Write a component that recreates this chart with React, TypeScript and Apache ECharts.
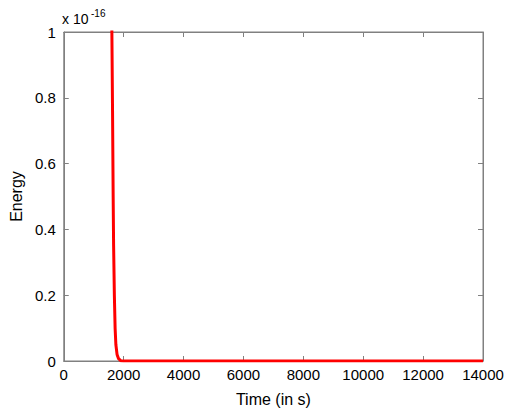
import React, { useEffect, useRef } from "react";
import * as echarts from "echarts";

const timeValues = [1580, 1607, 1630, 1650, 1665, 1690, 1715, 1740, 1780, 1830, 1900, 2000, 14000];
const energyValues = [1.3, 1.0, 0.75, 0.5, 0.35, 0.2, 0.1, 0.05, 0.02, 0.007, 0.001, 0, 0];

export default function App() {
  const ref = useRef<HTMLDivElement>(null);
  useEffect(() => {
    const chart = echarts.init(ref.current!, null, { renderer: "svg" });
    const axisCommon = {
      axisLine: { show: true, onZero: false, lineStyle: { color: "#808080" } },
      axisTick: { show: true, inside: true, length: 5, lineStyle: { color: "#808080" } },
      splitLine: { show: false },
      axisLabel: { color: "#000", fontSize: 15, fontFamily: "Liberation Sans" },
    };
    chart.setOption({
      animation: false,
      backgroundColor: "#fff",
      grid: { left: 60, right: 26, top: 32, bottom: 50, show: true, borderColor: "#808080", borderWidth: 1 },
      xAxis: [
        { ...axisCommon, type: "value", min: 0, max: 14000, interval: 2000,
          name: "Time (in s)", nameLocation: "middle", nameGap: 30,
          nameTextStyle: { color: "#000", fontSize: 16, fontFamily: "Liberation Sans" },
          axisLabel: { ...axisCommon.axisLabel, margin: 6, formatter: (v: number) => String(v) } },
        { ...axisCommon, type: "value", position: "top", min: 0, max: 14000, interval: 2000, axisLabel: { show: false } },
      ],
      yAxis: [
        { ...axisCommon, type: "value", min: 0, max: 1, interval: 0.2,
          name: "Energy", nameLocation: "middle", nameGap: 38,
          nameTextStyle: { color: "#000", fontSize: 16, fontFamily: "Liberation Sans" },
          axisLabel: { ...axisCommon.axisLabel, margin: 8, formatter: (v: number) => (v === 0 || v === 1 ? String(v) : v.toFixed(1)) } },
        { ...axisCommon, type: "value", position: "right", min: 0, max: 1, interval: 0.2, axisLabel: { show: false } },
      ],
      graphic: [
        { type: "text", left: 62, top: 12, style: { text: "x 10", fontSize: 14, fontFamily: "Liberation Sans", fill: "#000" } },
        { type: "text", left: 91, top: 8, style: { text: "-16", fontSize: 10, fontFamily: "Liberation Sans", fill: "#000" } },
      ],
      series: [
        { type: "line", data: timeValues.map((t, i) => [t, energyValues[i]]), showSymbol: false, clip: true,
          lineStyle: { color: "#ff0000", width: 3 } },
      ],
    });
    return () => chart.dispose();
  }, []);
  return <div ref={ref} style={{ position: "absolute", left: 0, top: 0, width: 509, height: 412 }} />;
}
